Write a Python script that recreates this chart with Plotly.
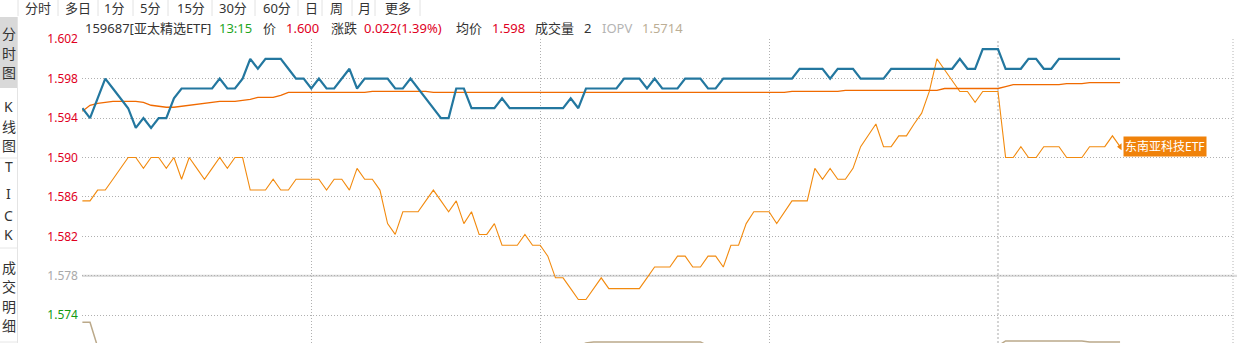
import plotly.graph_objects as go

# ---------------- data ----------------
price = [
    1.595, 1.594, 1.596, 1.598, 1.597, 1.596, 1.595, 1.593, 1.594, 1.593,
    1.594, 1.594, 1.596, 1.597, 1.597, 1.597, 1.597, 1.597, 1.598, 1.597,
    1.597, 1.598, 1.600, 1.599, 1.600, 1.600, 1.600, 1.599, 1.598, 1.598,
    1.597, 1.598, 1.597, 1.597, 1.598, 1.599, 1.597, 1.598, 1.598, 1.598,
    1.598, 1.597, 1.597, 1.598, 1.597, 1.596, 1.595, 1.594, 1.594, 1.597,
    1.597, 1.595, 1.595, 1.595, 1.595, 1.596, 1.595, 1.595, 1.595, 1.595,
    1.595, 1.595, 1.595, 1.595, 1.596, 1.595, 1.597, 1.597, 1.597, 1.597,
    1.597, 1.598, 1.598, 1.598, 1.597, 1.598, 1.597, 1.597, 1.597, 1.598,
    1.598, 1.598, 1.597, 1.597, 1.598, 1.598, 1.598, 1.598, 1.598, 1.598,
    1.598, 1.598, 1.598, 1.598, 1.599, 1.599, 1.599, 1.599, 1.598, 1.599,
    1.599, 1.599, 1.598, 1.598, 1.598, 1.598, 1.599, 1.599, 1.599, 1.599,
    1.599, 1.599, 1.599, 1.599, 1.599, 1.600, 1.599, 1.599, 1.601, 1.601,
    1.601, 1.599, 1.599, 1.599, 1.600, 1.600, 1.599, 1.599, 1.600, 1.600,
    1.600, 1.600, 1.600, 1.600, 1.600, 1.600, 1.600,
]

avg_price = [
    1.5947, 1.5953, 1.5955, 1.5956, 1.5957, 1.5957, 1.5957, 1.5957, 1.5956, 1.5953,
    1.5952, 1.5951, 1.5951, 1.5952, 1.5953, 1.5954, 1.5955, 1.5956, 1.5957, 1.5957,
    1.5957, 1.5958, 1.5959, 1.5961, 1.5961, 1.5961, 1.5963, 1.5966, 1.5966, 1.5966,
    1.5966, 1.5966, 1.5966, 1.5966, 1.5966, 1.5966, 1.5966, 1.5966, 1.5967, 1.5967,
    1.5967, 1.5967, 1.5967, 1.5967, 1.5967, 1.5967, 1.5966, 1.5966, 1.5966, 1.5966,
    1.5966, 1.5966, 1.5966, 1.5966, 1.5966, 1.5966, 1.5966, 1.5966, 1.5966, 1.5966,
    1.5966, 1.5966, 1.5966, 1.5966, 1.5966, 1.5966, 1.5966, 1.5966, 1.5966, 1.5966,
    1.5966, 1.5966, 1.5966, 1.5966, 1.5966, 1.5966, 1.5966, 1.5966, 1.5966, 1.5966,
    1.5966, 1.5966, 1.5966, 1.5966, 1.5966, 1.5966, 1.5966, 1.5966, 1.5966, 1.5966,
    1.5966, 1.5966, 1.5966, 1.5967, 1.5967, 1.5967, 1.5967, 1.5967, 1.5967, 1.5967,
    1.5968, 1.5968, 1.5968, 1.5968, 1.5968, 1.5968, 1.5968, 1.5968, 1.5968, 1.5968,
    1.5968, 1.5968, 1.5968, 1.5970, 1.5970, 1.5970, 1.5970, 1.5970, 1.5970, 1.5970,
    1.5970, 1.5972, 1.5974, 1.5974, 1.5974, 1.5974, 1.5974, 1.5974, 1.5974, 1.5975,
    1.5975, 1.5975, 1.5976, 1.5976, 1.5976, 1.5976, 1.5976,
]

compare = [
    1.5856, 1.5856, 1.5867, 1.5867, 1.5878, 1.5889, 1.5900, 1.5900, 1.5889, 1.5900,
    1.5900, 1.5889, 1.5900, 1.5878, 1.5900, 1.5889, 1.5878, 1.5889, 1.5900, 1.5889,
    1.5900, 1.5900, 1.5867, 1.5867, 1.5867, 1.5878, 1.5867, 1.5867, 1.5878, 1.5878,
    1.5878, 1.5878, 1.5867, 1.5878, 1.5878, 1.5867, 1.5889, 1.5878, 1.5878, 1.5867,
    1.5833, 1.5822, 1.5845, 1.5845, 1.5845, 1.5856, 1.5867, 1.5856, 1.5845, 1.5856,
    1.5833, 1.5845, 1.5822, 1.5822, 1.5833, 1.5811, 1.5811, 1.5811, 1.5822, 1.5811,
    1.5811, 1.5800, 1.5778, 1.5778, 1.5767, 1.5756, 1.5756, 1.5767, 1.5778, 1.5767,
    1.5767, 1.5767, 1.5767, 1.5767, 1.5778, 1.5789, 1.5789, 1.5789, 1.5800, 1.5800,
    1.5789, 1.5789, 1.5800, 1.5800, 1.5789, 1.5811, 1.5811, 1.5833, 1.5845, 1.5845,
    1.5845, 1.5833, 1.5845, 1.5856, 1.5856, 1.5856, 1.5889, 1.5878, 1.5889, 1.5878,
    1.5878, 1.5889, 1.5911, 1.5922, 1.5934, 1.5911, 1.5911, 1.5922, 1.5922, 1.5934,
    1.5945, 1.5967, 1.6000, 1.5989, 1.5978, 1.5967, 1.5967, 1.5956, 1.5967, 1.5967,
    1.5967, 1.5900, 1.5900, 1.5911, 1.5900, 1.5900, 1.5911, 1.5911, 1.5911, 1.5900,
    1.5900, 1.5900, 1.5911, 1.5911, 1.5911, 1.5922, 1.5911,
]

iopv = [
    1.5733, 1.5733, 1.5708, 1.5708, 1.5708, 1.5708, 1.5708, 1.5708, 1.5708, 1.5708,
    1.5708, 1.5708, 1.5708, 1.5708, 1.5708, 1.5708, 1.5708, 1.5708, 1.5708, 1.5708,
    1.5708, 1.5708, 1.5708, 1.5708, 1.5708, 1.5708, 1.5708, 1.5708, 1.5708, 1.5708,
    1.5708, 1.5708, 1.5708, 1.5708, 1.5708, 1.5708, 1.5708, 1.5708, 1.5708, 1.5708,
    1.5708, 1.5708, 1.5708, 1.5708, 1.5708, 1.5708, 1.5708, 1.5708, 1.5708, 1.5708,
    1.5708, 1.5708, 1.5708, 1.5708, 1.5708, 1.5708, 1.5708, 1.5708, 1.5708, 1.5708,
    1.5708, 1.5708, 1.5708, 1.5708, 1.5708, 1.5708, 1.5712, 1.5713, 1.5713, 1.5713,
    1.5713, 1.5713, 1.5713, 1.5713, 1.5713, 1.5713, 1.5713, 1.5713, 1.5713, 1.5713,
    1.5713, 1.5713, 1.5709, 1.5709, 1.5709, 1.5709, 1.5709, 1.5709, 1.5709, 1.5709,
    1.5709, 1.5709, 1.5709, 1.5709, 1.5709, 1.5709, 1.5709, 1.5709, 1.5709, 1.5709,
    1.5709, 1.5709, 1.5709, 1.5709, 1.5709, 1.5709, 1.5709, 1.5709, 1.5709, 1.5709,
    1.5709, 1.5709, 1.5709, 1.5709, 1.5709, 1.5709, 1.5709, 1.5709, 1.5709, 1.5709,
    1.5709, 1.5714, 1.5714, 1.5714, 1.5714, 1.5714, 1.5714, 1.5714, 1.5714, 1.5714,
    1.5714, 1.5714, 1.5713, 1.5713, 1.5713, 1.5713, 1.5713,
]

minutes = list(range(len(price)))

y_ticks = [1.574, 1.578, 1.582, 1.586, 1.590, 1.594, 1.598, 1.602]
y_tick_colors = ["#119a11", "#a9a9a9", "#e0001e", "#e0001e", "#e0001e",
                 "#e0001e", "#e0001e", "#e0001e"]
x_grid_minutes = [0, 30, 60, 90]
session_break = 120

tabs = ["分时", "多日", "1分", "5分", "15分", "30分", "60分", "日", "周", "月", "更多"]
side_groups = [["分", "时", "图"], ["K", "线", "图"], ["T", "I", "C", "K"], ["成", "交", "明", "细"]]
compare_name = "东南亚科技ETF"

header = [
    ("159687[亚太精选ETF]", "#333333"), ("13:15", "#1fa51f"), ("价", "#333333"),
    ("1.600", "#e0001e"), ("涨跌", "#333333"), ("0.022(1.39%)", "#e0001e"),
    ("均价", "#333333"), ("1.598", "#e0001e"), ("成交量", "#333333"),
    ("2", "#333333"), ("IOPV", "#b4b4b4"), ("1.5714", "#bcae95"),
]

# ---------------- layout geometry ----------------
W, H = 1237, 343
ML, MR, MT, MB = 82, 4, 39, 0
PW, PH = W - ML - MR, H - MT - MB
X0 = -0.05
X1 = X0 + PW / 7.63
Y0, Y1 = 1.57119, 1.60202


def px(xp):
    return (xp - ML) / PW


def py(yp):
    return (H - MB - yp) / PH


FONT = "Noto Sans, Noto Sans CJK SC, sans-serif"

fig = go.Figure()

fig.add_trace(go.Scatter(x=minutes, y=iopv, mode="lines",
                         line=dict(color="#bba98a", width=1.5), hoverinfo="skip"))
fig.add_trace(go.Scatter(x=minutes, y=compare, mode="lines",
                         line=dict(color="#f28a0e", width=1.1), hoverinfo="skip"))
fig.add_trace(go.Scatter(x=minutes, y=avg_price, mode="lines",
                         line=dict(color="#f06a00", width=1.3), hoverinfo="skip"))
fig.add_trace(go.Scatter(x=minutes, y=price, mode="lines",
                         line=dict(color="#23779f", width=2.2), hoverinfo="skip"))
# small pointer of the compare label
fig.add_trace(go.Scatter(x=[minutes[-1]], y=[compare[-1]], mode="markers",
                         marker=dict(symbol="triangle-left", size=6, color="#f0820a"),
                         hoverinfo="skip"))

shapes = []
# solid zero-change line
shapes.append(dict(type="line", xref="paper", x0=0, x1=1.004, yref="y", y0=1.578, y1=1.578,
                   line=dict(color="#dcdcdc", width=2.2), layer="between"))
# session break line
shapes.append(dict(type="line", xref="x", x0=session_break, x1=session_break, yref="paper",
                   y0=0, y1=1, line=dict(color="#d4d4d4", width=2, dash="2px,2px"),
                   layer="between"))
# right border
shapes.append(dict(type="line", xref="paper", x0=1, x1=1, yref="paper", y0=0, y1=1,
                   line=dict(color="#b4b4b4", width=1, dash="1px,2px"), layer="between"))
# left sidebar
shapes.append(dict(type="rect", xref="paper", yref="paper", x0=px(0), x1=px(17.5),
                   y0=py(88), y1=py(17), fillcolor="#d9d9d9", line=dict(width=0)))
shapes.append(dict(type="line", xref="paper", yref="paper", x0=px(17.5), x1=px(17.5),
                   y0=py(343), y1=py(17), line=dict(color="#e4e4e4", width=1)))
for yy in [158, 248, 342]:
    shapes.append(dict(type="line", xref="paper", yref="paper", x0=px(0), x1=px(17.5),
                       y0=py(yy), y1=py(yy), line=dict(color="#e6e6e6", width=1)))
# toolbar separators
for xs in [18, 58, 98, 133, 168, 212, 255, 298, 322, 352, 375, 420]:
    shapes.append(dict(type="line", xref="paper", yref="paper", x0=px(xs), x1=px(xs),
                       y0=py(16), y1=py(0), line=dict(color="#e2e2e2", width=1)))

annotations = []
tab_centers = [38.5, 77.5, 114, 150, 190.5, 233, 277, 311.5, 336.5, 364, 397.5]
for t, cx in zip(tabs, tab_centers):
    annotations.append(dict(text=t, xref="paper", yref="paper", x=px(cx), y=py(8),
                            xanchor="center", yanchor="middle", showarrow=False,
                            font=dict(family=FONT, size=13, color="#333333")))

side_ys = [[34, 53.5, 72.5], [106.5, 126.5, 145.5], [166.5, 193, 215, 234],
           [267, 286.5, 306, 325]]
for grp, ys in zip(side_groups, side_ys):
    for ch, yy in zip(grp, ys):
        annotations.append(dict(text=ch, xref="paper", yref="paper", x=px(8.7), y=py(yy),
                                xanchor="center", yanchor="middle", showarrow=False,
                                font=dict(family=FONT, size=14, color="#333333")))

header_x = [83, 217, 261, 284, 329, 362, 454, 490, 533, 582, 600, 640]
for (txt, col), hx in zip(header, header_x):
    annotations.append(dict(text=txt, xref="paper", yref="paper", x=px(hx), y=py(28),
                            xanchor="left", yanchor="middle", showarrow=False,
                            font=dict(family=FONT, size=13, color=col)))

annotations.append(dict(text=compare_name, xref="x", yref="y", x=minutes[-1], y=compare[-1],
                        xanchor="left", yanchor="middle", xshift=3, showarrow=False,
                        bgcolor="#f0820a", borderpad=1,
                        font=dict(family=FONT, size=12, color="#ffffff")))

tick_text = [f'<span style="color:{c}">{v:.3f}</span>' for v, c in zip(y_ticks, y_tick_colors)]

fig.update_layout(
    width=W, height=H,
    margin=dict(l=ML, r=MR, t=MT, b=MB, pad=0),
    paper_bgcolor="white", plot_bgcolor="white",
    showlegend=False,
    shapes=shapes, annotations=annotations,
    xaxis=dict(range=[X0, X1], tickvals=x_grid_minutes, showticklabels=False,
               showgrid=True, gridcolor="#b0b0b0", griddash="1px,2px", gridwidth=1,
               zeroline=False, showline=False, ticks=""),
    yaxis=dict(range=[Y0, Y1], tickvals=y_ticks, ticktext=tick_text,
               showgrid=True, gridcolor="#b0b0b0", griddash="1px,2px", gridwidth=1,
               zeroline=False, showline=False, ticks="", ticklabelstandoff=3,
               tickfont=dict(family=FONT, size=12, color="#e0001e")),
)

fig.write_html("out.html", config={"displayModeBar": False})
